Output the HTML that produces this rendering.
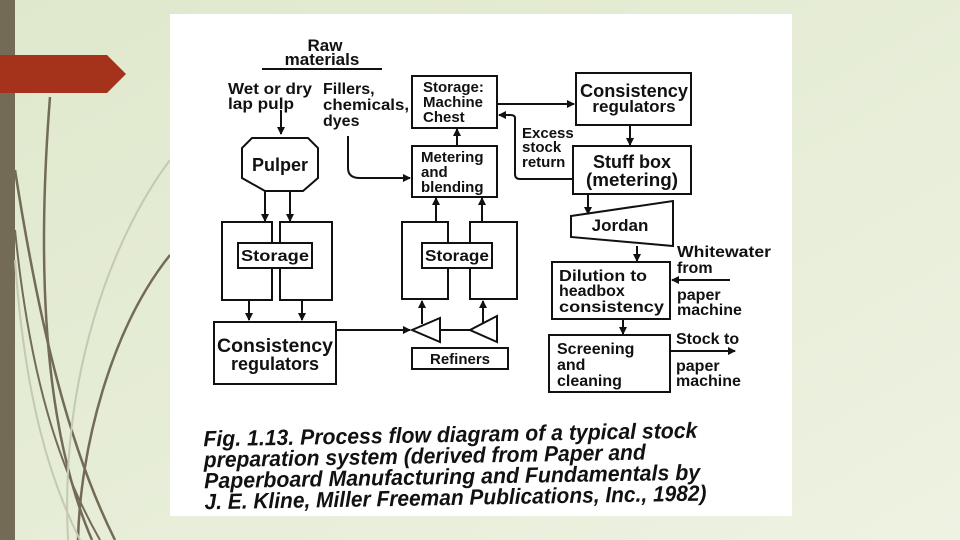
<!DOCTYPE html>
<html><head><meta charset="utf-8"><style>
html,body{margin:0;padding:0;width:960px;height:540px;overflow:hidden;background:#e6edd6}
svg{display:block}
.t{font-family:"Liberation Sans",sans-serif;font-weight:bold;font-size:16px;fill:#111}
.c{font-family:"Liberation Sans",sans-serif;font-weight:bold;font-style:italic;font-size:22px;fill:#111}
</style></head><body>
<svg width="960" height="540" viewBox="0 0 960 540" xmlns="http://www.w3.org/2000/svg">
<defs>
<linearGradient id="bg" x1="0" y1="0" x2="1" y2="1"><stop offset="0" stop-color="#dfe8cc"/><stop offset="1" stop-color="#eef2e2"/></linearGradient>
<marker id="a" markerWidth="8" markerHeight="8" refX="7" refY="4" orient="auto" markerUnits="userSpaceOnUse"><path d="M0,0 L8,4 L0,8 Z" fill="#111"/></marker>
</defs>
<rect width="960" height="540" fill="url(#bg)"/>
<rect x="0" y="0" width="15" height="540" fill="#736b55"/>
<g fill="none" stroke="#736b55" stroke-width="2.5">
<path d="M50,97 C38,250 40,420 92,540"/>
<path d="M15,170 C40,330 70,450 115,540"/>
<path d="M170,255 C110,330 80,450 78,540"/>
<path d="M15,230 C30,380 60,470 100,540" stroke-width="2"/>
</g>
<g fill="none" stroke="#c3c9b2" stroke-width="2">
<path d="M170,160 C110,240 60,380 68,540"/>
<path d="M15,260 C25,400 50,480 80,540"/>
</g>
<path d="M0,55 L107,55 L126,74 L107,93 L0,93 Z" fill="#a5321a"/>
<rect x="170" y="14" width="622" height="502" fill="#fff"/>

<g stroke="#111" stroke-width="2" fill="none">
<line x1="262" y1="69" x2="382" y2="69"/>
<line x1="281" y1="110" x2="281" y2="134" marker-end="url(#a)"/>
<path d="M252,138 L308,138 L318,148 L318,178 L303,191 L265,191 L242,178 L242,148 Z"/>
<line x1="265" y1="191" x2="265" y2="221" marker-end="url(#a)"/>
<line x1="290" y1="191" x2="290" y2="221" marker-end="url(#a)"/>
<rect x="222" y="222" width="50" height="78"/>
<rect x="280" y="222" width="52" height="78"/>
<rect x="238" y="243" width="74" height="25" fill="#fff"/>
<line x1="249" y1="300" x2="249" y2="320" marker-end="url(#a)"/>
<line x1="302" y1="300" x2="302" y2="320" marker-end="url(#a)"/>
<rect x="214" y="322" width="122" height="62"/>
<line x1="336" y1="330" x2="410" y2="330" marker-end="url(#a)"/>
<path d="M348,136 L348,168 Q348,178 360,178 L410,178" marker-end="url(#a)"/>
<rect x="412" y="76" width="85" height="52"/>
<rect x="412" y="146" width="85" height="51"/>
<line x1="457" y1="146" x2="457" y2="129" marker-end="url(#a)"/>
<rect x="402" y="222" width="46" height="77"/>
<rect x="470" y="222" width="47" height="77"/>
<rect x="422" y="243" width="70" height="25" fill="#fff"/>
<line x1="436" y1="222" x2="436" y2="198" marker-end="url(#a)"/>
<line x1="482" y1="222" x2="482" y2="198" marker-end="url(#a)"/>
<path d="M412,330 L440,318 L440,342 Z"/>
<path d="M470,330 L497,316 L497,342 Z"/>
<line x1="440" y1="330" x2="470" y2="330"/>
<line x1="422" y1="324" x2="422" y2="301" marker-end="url(#a)"/>
<line x1="483" y1="323" x2="483" y2="301" marker-end="url(#a)"/>
<rect x="412" y="348" width="96" height="21"/>
<line x1="497" y1="104" x2="574" y2="104" marker-end="url(#a)"/>
<rect x="576" y="73" width="115" height="52"/>
<line x1="630" y1="125" x2="630" y2="145" marker-end="url(#a)"/>
<rect x="573" y="146" width="118" height="48"/>
<path d="M572,179 L520,179 Q515,179 515,174 L515,118 Q515,115 510,115 L499,115" marker-end="url(#a)"/>
<line x1="588" y1="194" x2="588" y2="214" marker-end="url(#a)"/>
<path d="M571,216 L673,201 L673,246 L571,237 Z"/>
<line x1="637" y1="246" x2="637" y2="261" marker-end="url(#a)"/>
<rect x="552" y="262" width="118" height="57"/>
<line x1="730" y1="280" x2="672" y2="280" marker-end="url(#a)"/>
<line x1="623" y1="319" x2="623" y2="334" marker-end="url(#a)"/>
<rect x="549" y="335" width="121" height="57"/>
<line x1="670" y1="351" x2="735" y2="351" marker-end="url(#a)"/>
</g>

<g class="t">
<text x="325" y="51" text-anchor="middle" font-size="17">Raw</text>
<text x="322" y="65" text-anchor="middle" font-size="17">materials</text>
<text x="228" y="94" textLength="84" lengthAdjust="spacingAndGlyphs">Wet or dry</text>
<text x="228" y="109" textLength="66" lengthAdjust="spacingAndGlyphs">lap pulp</text>
<text x="323" y="94">Fillers,</text>
<text x="323" y="110" textLength="86" lengthAdjust="spacingAndGlyphs">chemicals,</text>
<text x="323" y="126">dyes</text>
<text x="280" y="171" text-anchor="middle" font-size="18">Pulper</text>
<text x="241" y="261" textLength="68" lengthAdjust="spacingAndGlyphs">Storage</text>
<text x="425" y="261" textLength="64" lengthAdjust="spacingAndGlyphs">Storage</text>
<text x="217" y="352" font-size="19" textLength="116" lengthAdjust="spacingAndGlyphs">Consistency</text>
<text x="275" y="370" text-anchor="middle" font-size="18">regulators</text>
<text x="423" y="92" font-size="15">Storage:</text>
<text x="423" y="107" font-size="15">Machine</text>
<text x="423" y="122" font-size="15">Chest</text>
<text x="421" y="162" font-size="15">Metering</text>
<text x="421" y="177" font-size="15">and</text>
<text x="421" y="192" font-size="15">blending</text>
<text x="460" y="364" text-anchor="middle" font-size="15">Refiners</text>
<text x="580" y="97" textLength="108" lengthAdjust="spacingAndGlyphs" font-size="18">Consistency</text>
<text x="634" y="112" text-anchor="middle" font-size="17">regulators</text>
<text x="522" y="138" font-size="15">Excess</text>
<text x="522" y="152" font-size="15">stock</text>
<text x="522" y="167" font-size="15">return</text>
<text x="632" y="168" text-anchor="middle" font-size="18">Stuff box</text>
<text x="586" y="186" textLength="92" lengthAdjust="spacingAndGlyphs" font-size="18">(metering)</text>
<text x="620" y="231" text-anchor="middle" font-size="17">Jordan</text>
<text x="559" y="281" textLength="88" lengthAdjust="spacingAndGlyphs">Dilution to</text>
<text x="559" y="296">headbox</text>
<text x="559" y="312" textLength="105" lengthAdjust="spacingAndGlyphs">consistency</text>
<text x="677" y="257" textLength="94" lengthAdjust="spacingAndGlyphs">Whitewater</text>
<text x="677" y="273">from</text>
<text x="677" y="300">paper</text>
<text x="677" y="315">machine</text>
<text x="557" y="354">Screening</text>
<text x="557" y="370">and</text>
<text x="557" y="386">cleaning</text>
<text x="676" y="344">Stock to</text>
<text x="676" y="371">paper</text>
<text x="676" y="386">machine</text>
</g>

<g class="c" transform="rotate(-1 450 470)">
<text x="204" y="442" textLength="494" lengthAdjust="spacingAndGlyphs">Fig. 1.13. Process flow diagram of a typical stock</text>
<text x="204" y="463" textLength="442" lengthAdjust="spacingAndGlyphs">preparation system (derived from Paper and</text>
<text x="204" y="484" textLength="496" lengthAdjust="spacingAndGlyphs">Paperboard Manufacturing and Fundamentals by</text>
<text x="204" y="505" textLength="502" lengthAdjust="spacingAndGlyphs">J. E. Kline, Miller Freeman Publications, Inc., 1982)</text>
</g>
</svg>
</body></html>
